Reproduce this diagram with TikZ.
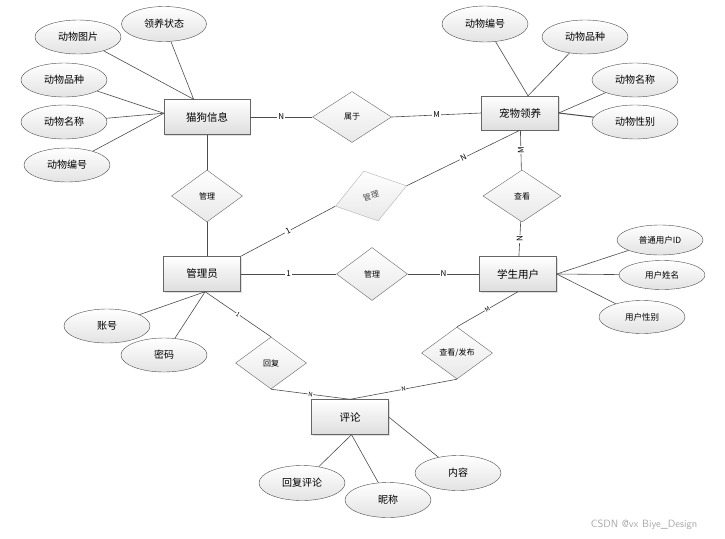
\documentclass[tikz,border=0pt]{standalone}
\usepackage{fontspec}
\newfontfamily\cjk{Noto Sans CJK SC}
\usetikzlibrary{shapes.geometric,positioning,shadows}
\tikzset{
  ent/.style={draw=black!60, top color=white, bottom color=black!13, minimum width=77pt, minimum height=35pt, inner sep=0pt, font=\cjk\fontsize{10.5}{12}\selectfont, drop shadow={opacity=0.25, shadow xshift=1.2pt, shadow yshift=-1.2pt}},
  attr/.style={ellipse, draw=black!70, top color=white, bottom color=black!11, minimum width=86pt, minimum height=34pt, inner sep=0pt, font=\cjk\fontsize{10}{12}\selectfont},
  rel/.style={diamond, draw=black!60, top color=white, bottom color=black!9, minimum width=71pt, minimum height=52pt, inner sep=0pt, font=\cjk\fontsize{8}{9}\selectfont},
  card/.style={fill=white, inner sep=1pt, font=\cjk\fontsize{8}{9}\selectfont},
  scard/.style={fill=white, inner sep=0.4pt, sloped, font=\cjk\fontsize{6}{7}\selectfont},
  lnk/.style={draw=black!70, line width=0.6pt},
}
\begin{document}
\begin{tikzpicture}[x=1pt,y=-1pt]
\useasboundingbox (0,0) rectangle (725,538);
% entities
\node[ent, minimum width=86pt] (cat) at (207,117) {猫狗信息};
\node[ent, minimum height=34pt] (pet) at (520,113) {宠物领养};
\node[ent] (adm) at (202,274) {管理员};
\node[ent] (stu) at (518,274) {学生用户};
\node[ent] (pl) at (350,417) {评论};
% relations
\node[rel, minimum width=79pt, minimum height=51pt] (sy) at (352,117) {属于};
\node[rel] (mg1) at (207,196) {管理};
\node[rel, rotate=16, minimum width=74pt, draw=black!30, text=black!70] (mg2) at (371,196) {管理};
\node[rel, minimum width=78pt] (ck1) at (522,196) {查看};
\node[rel, minimum height=53pt] (mg3) at (372,274) {管理};
\node[rel] (hf) at (271,363) {回复};
\node[rel] (ck2) at (457,353) {查看/发布};
% attributes
\node[attr, minimum width=85pt, minimum height=35pt] (a1) at (164,24) {领养状态};
\node[attr] (a2) at (78,37) {动物图片};
\node[attr] (a3) at (64,80) {动物品种};
\node[attr] (a4) at (64,122) {动物名称};
\node[attr] (a5) at (67,165) {动物编号};
\node[attr, minimum height=36pt] (b1) at (485,24) {动物编号};
\node[attr] (b2) at (585,37) {动物品种};
\node[attr] (b3) at (635,80) {动物名称};
\node[attr] (b4) at (635,122) {动物性别};
\node[attr, minimum height=30pt, font=\cjk\fontsize{8.5}{10}\selectfont] (c1) at (660,240) {普通用户ID};
\node[attr, minimum height=29pt, font=\cjk\fontsize{8.5}{10}\selectfont] (c2) at (662,275) {用户姓名};
\node[attr, minimum height=33pt, font=\cjk\fontsize{8.5}{10}\selectfont] (c3) at (642,317) {用户性别};
\node[attr] (d1) at (107,326) {账号};
\node[attr] (d2) at (164,355) {密码};
\node[attr, minimum height=35pt] (e1) at (302,483) {回复评论};
\node[attr, minimum height=35pt] (e2) at (388,500) {昵称};
\node[attr, minimum height=35pt] (e3) at (458,473) {内容};
% links
\draw[lnk] (a1) -- (cat.127);
\draw[lnk] (a2) -- (cat.127);
\foreach \a in {a3,a4,a5} \draw[lnk] (\a) -- (cat.175);
\foreach \b in {b1,b2} \draw[lnk] (\b) -- (pet.65);
\draw[lnk] (b3) -- (pet.east);
\draw[lnk, line width=1pt] (b4) -- (pet.east);
\draw[lnk] (cat.east) -- node[card] {N} (sy.west);
\draw[lnk] (sy.east) -- node[card] {M} (pet.west);
\draw[lnk] (cat.south) -- (mg1.north);
\draw[lnk] (mg1.south) -- (mg1.south |- adm.north);
\draw[lnk] (adm.north east) -- node[card, sloped] {1} (mg2.west);
\draw[lnk] (mg2.east) -- node[card, sloped] {N} (pet.south);
\draw[lnk] (pet) -- node[card, rotate=90] {M} (ck1);
\draw[lnk] (ck1) -- node[card, rotate=90] {N} (stu);
\draw[lnk] (adm.east) -- node[card] {1} (mg3.west);
\draw[lnk] (mg3.east) -- node[card] {N} (stu.west);
\foreach \c in {c1,c2,c3} \draw[lnk] (stu.east) -- (\c);
\foreach \d in {d1,d2} \draw[lnk] (adm.280) -- (\d);
\draw[lnk] (adm.280) -- node[scard] {1} (hf.north);
\draw[lnk] (hf.south) -- node[scard] {N} (pl.north);
\draw[lnk] (ck2.south) -- node[scard] {N} (pl.north);
\draw[lnk] (ck2.north) -- node[scard] {M} (stu.south);
\foreach \e in {e1,e2} \draw[lnk] (pl.275) -- (\e);
\draw[lnk] (pl.east) -- (e3);
% watermark
\node[text=black!35, font=\fontsize{10.5}{12}\selectfont\sffamily] (wm) at (644,525) {CSDN @vx Biye\_Design};
\end{tikzpicture}
\end{document}
